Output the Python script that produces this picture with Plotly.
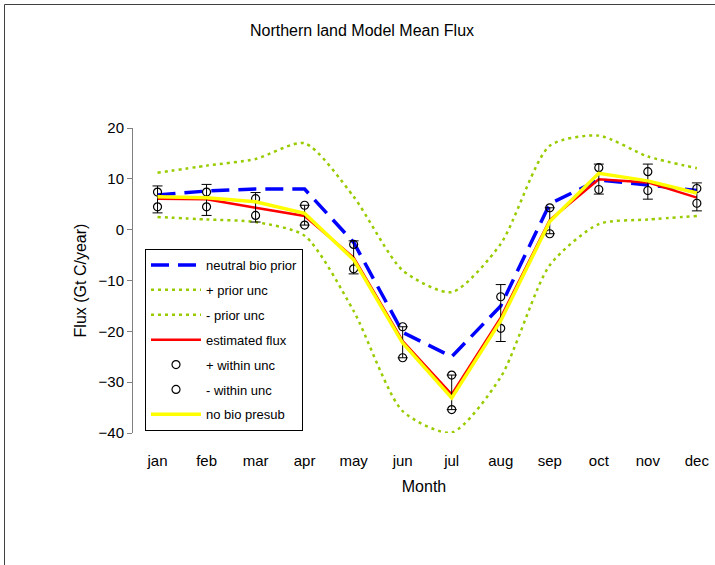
import plotly.graph_objects as go

# Monthly flux values (Gt C/year)
months = ["jan", "feb", "mar", "apr", "may", "jun", "jul", "aug", "sep", "oct", "nov", "dec"]
neutral_bio_prior = [6.8, 7.6, 8.0, 8.0, -2.5, -20.2, -25.0, -15.0, 5.1, 9.8, 8.8, 7.7]
plus_prior_unc = [11.2, 12.6, 13.9, 17.0, 6.5, -8.0, -12.3, -2.8, 16.5, 18.5, 14.4, 12.1]
minus_prior_unc = [2.5, 2.0, 1.5, -1.2, -16.0, -35.7, -39.9, -29.0, -7.0, 1.1, 2.0, 2.7]
estimated_flux = [6.1, 6.0, 4.3, 2.7, -5.5, -21.9, -32.4, -17.3, 1.9, 9.9, 9.3, 6.3]
plus_within_unc = [7.4, 7.4, 6.1, 4.8, -2.9, -19.1, -28.6, -13.2, 4.3, 12.2, 11.4, 8.1]
minus_within_unc = [4.5, 4.5, 2.8, 0.9, -7.7, -25.2, -35.4, -19.4, -0.8, 7.9, 7.7, 5.2]
no_bio_presub = [6.5, 6.3, 5.5, 3.2, -5.9, -22.3, -33.1, -17.9, 1.6, 11.1, 9.6, 7.2]
# error bar ends around the estimated flux
bar_high = [8.6, 8.9, 7.3, 4.8, -2.2, -19.1, -28.6, -10.8, 4.3, 12.9, 12.9, 9.2]
bar_low = [3.3, 2.8, 1.5, 0.9, -8.7, -25.2, -35.4, -22.0, -0.8, 7.0, 6.0, 3.7]

xs = list(range(len(months)))
FONT = "Liberation Sans, Arial, sans-serif"
GREEN = "#99CC00"
AXIS_GREY = "#808080"

fig = go.Figure()

fig.add_trace(go.Scatter(
    x=xs, y=neutral_bio_prior, mode="lines", name="neutral bio prior",
    line=dict(color="#0000FF", width=3.5, dash="18px,9px"), legendgroup="a"))
fig.add_trace(go.Scatter(
    x=xs, y=plus_prior_unc, mode="lines", name="+ prior unc",
    line=dict(color=GREEN, width=2.5, dash="3px,4px", shape="spline", smoothing=0.7),
    legendgroup="b"))
fig.add_trace(go.Scatter(
    x=xs, y=minus_prior_unc, mode="lines", name="- prior unc",
    line=dict(color=GREEN, width=2.5, dash="3px,4px", shape="spline", smoothing=0.7),
    legendgroup="c"))
fig.add_trace(go.Scatter(
    x=xs, y=estimated_flux, mode="lines", name="estimated flux",
    line=dict(color="#FF0000", width=2.5), legendgroup="d"))

# black uncertainty bars around the estimated flux
err_plus = [h - e for h, e in zip(bar_high, estimated_flux)]
err_minus = [e - l for e, l in zip(estimated_flux, bar_low)]
fig.add_trace(go.Scatter(
    x=xs, y=estimated_flux, mode="markers", showlegend=False, hoverinfo="skip",
    marker=dict(size=1, color="rgba(0,0,0,0)"),
    error_y=dict(type="data", array=err_plus, arrayminus=err_minus, symmetric=False,
                 color="black", thickness=1, width=5)))

fig.add_trace(go.Scatter(
    x=xs, y=plus_within_unc, mode="markers", name="+ within unc",
    marker=dict(symbol="circle-open", size=8, color="black", line=dict(width=1.2)),
    legendgroup="e"))
fig.add_trace(go.Scatter(
    x=xs, y=minus_within_unc, mode="markers", name="- within unc",
    marker=dict(symbol="circle-open", size=8, color="black", line=dict(width=1.2)),
    legendgroup="f"))
fig.add_trace(go.Scatter(
    x=xs, y=no_bio_presub, mode="lines", name="no bio presub",
    line=dict(color="#FFFF00", width=3.5), legendgroup="g"))

x_range = [-0.5, 11.37]

fig.update_layout(
    width=715, height=565,
    margin=dict(l=133, r=0, t=128, b=132),
    paper_bgcolor="white", plot_bgcolor="white",
    font=dict(family=FONT, color="black", size=15),
    title=dict(text="Northern land Model Mean Flux", x=362 / 715, xanchor="center",
               y=1 - 30 / 565, yanchor="middle", font=dict(size=16, family=FONT)),
    xaxis=dict(
        range=x_range, tickvals=xs, ticktext=months, showline=False, showgrid=False,
        zeroline=False, ticks="outside", ticklen=14, tickcolor="rgba(0,0,0,0)",
        tickfont=dict(size=15),
        title=dict(text="Month", font=dict(size=16), standoff=12)),
    xaxis2=dict(
        range=x_range, overlaying="x", anchor="free", position=40 / 60, side="bottom",
        showline=True, linecolor=AXIS_GREY, linewidth=1, showgrid=False, zeroline=False,
        tickvals=[i - 0.5 for i in range(12)], ticks="outside", ticklen=5,
        tickcolor=AXIS_GREY, showticklabels=False),
    yaxis=dict(
        range=[-40, 20], dtick=10, showline=True, linecolor=AXIS_GREY, linewidth=1,
        showgrid=False, zeroline=False, ticks="outside", ticklen=5, tickcolor=AXIS_GREY,
        tickfont=dict(size=15),
        title=dict(text="Flux (Gt C/year)", font=dict(size=16), standoff=7)),
    legend=dict(
        x=(145 - 133) / 582, y=(433 - 249) / 305, xanchor="left", yanchor="top",
        bgcolor="white", bordercolor="black", borderwidth=1,
        font=dict(size=13, family=FONT), traceorder="grouped", tracegroupgap=5,
        itemwidth=50),
    shapes=[dict(type="rect", xref="paper", yref="paper",
                 x0=(4.5 - 133) / 582, x1=1.1, y0=-0.6, y1=(433 - 4.5) / 305,
                 line=dict(color="#404040", width=1), fillcolor="rgba(0,0,0,0)",
                 layer="below")],
)

fig.write_html("out.html")
